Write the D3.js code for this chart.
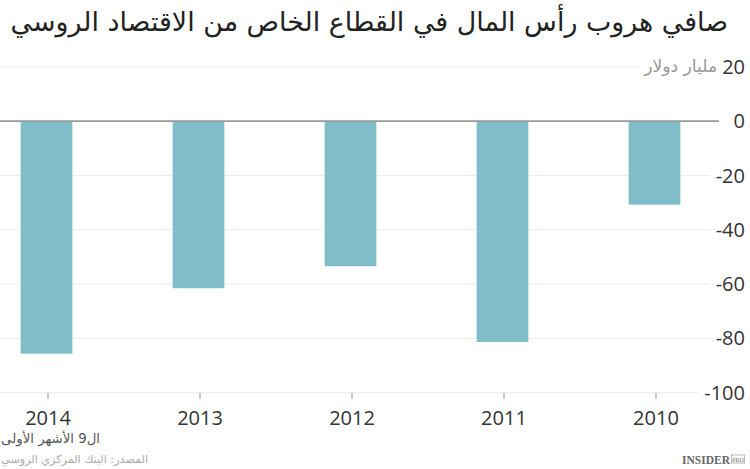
<!DOCTYPE html>
<html><head><meta charset="utf-8">
<script src="https://cdn.jsdelivr.net/npm/d3@7"></script>
<style>
html,body{margin:0;padding:0;background:#fff;}
svg{display:block;}
</style></head>
<body>
<svg id="c" width="750" height="469"></svg>
<script>
const title = "صافي هروب رأس المال في القطاع الخاص من الاقتصاد الروسي";
const unitLabel = "مليار دولار";
const footnote = "ال9 الأشهر الأولى";
const source = "المصدر: البنك المركزي الروسي";
const years = ["2014", "2013", "2012", "2011", "2010"];
const values = [-85.6, -61.5, -53.4, -81.3, -30.7];
const yTicks = [20, 0, -20, -40, -60, -80, -100];

const svg = d3.select("#c");
const labelRight = 745;
const gridEnd = 719;

const y = d3.scaleLinear().domain([-100, 20]).range([392.7, 67]);
const x = d3.scaleBand().domain(years).range([0, 701]).paddingInner(0.66).paddingOuter(0.136);

function rtlText(sel, xr, yy, txt, size, fill, fitW) {
  const t = sel.append("text").attr("x", xr).attr("y", yy)
    .attr("direction", "rtl").style("direction", "rtl").attr("text-anchor", "start")
    .attr("font-family", "'DejaVu Sans', sans-serif")
    .attr("font-size", size).attr("fill", fill).text(txt);
  if (fitW) {
    const len = t.node().getComputedTextLength();
    t.attr("font-size", Math.min(size * 1.3, size * fitW / len));
  }
  return t;
}

// title
rtlText(svg, 728, 31, title, 27, "#222", 718);

// y axis labels & gridlines
const g = svg.append("g");
yTicks.forEach(t => {
  const lbl = g.append("text").attr("x", labelRight).attr("y", y(t))
    .attr("dy", "0.35em").attr("text-anchor", "end")
    .attr("font-family", "'Open Sans', sans-serif").attr("font-size", 20)
    .attr("fill", "#333").text(t);
  let left = labelRight - lbl.node().getComputedTextLength();
  if (t === 20) {
    const u = rtlText(g, left - 5, y(t) + 5, unitLabel, 14, "#999", 73);
    left = left - 5 - u.node().getComputedTextLength();
  }
  const end = Math.min(gridEnd, left - 6);
  g.insert("line", ":first-child").attr("x1", 0).attr("x2", end)
    .attr("y1", y(t)).attr("y2", y(t))
    .attr("stroke", t === 0 ? "#999" : "#ececec").attr("stroke-width", t === 0 ? 1.5 : 1);
});

// bars
svg.append("g").selectAll("rect").data(years).join("rect")
  .attr("x", d => x(d)).attr("width", x.bandwidth())
  .attr("y", (d, i) => y(Math.max(0, values[i])))
  .attr("height", (d, i) => Math.abs(y(values[i]) - y(0)))
  .attr("fill", "#7fbdc8");

// zero line on top
svg.append("line").attr("x1", 0).attr("x2", gridEnd).attr("y1", y(0)).attr("y2", y(0))
  .attr("stroke", "#999").attr("stroke-width", 1.5);

// x axis ticks & labels
const xa = svg.append("g");
years.forEach(yr => {
  const cx = x(yr) + x.bandwidth() / 2 + 1.5;
  xa.append("line").attr("x1", cx).attr("x2", cx).attr("y1", y(-100)).attr("y2", y(-100) + 6)
    .attr("stroke", "#999").attr("stroke-width", 1);
  xa.append("text").attr("x", cx).attr("y", 425).attr("text-anchor", "middle")
    .attr("font-family", "'Open Sans', sans-serif").attr("font-size", 20)
    .attr("fill", "#333").text(yr);
});

// footnote & source
rtlText(svg, 100, 443, footnote, 14, "#555", 99);
rtlText(svg, 148, 463, source, 13, "#aaa", 147);

// logo
const logo = svg.append("g");
logo.append("text").attr("x", 730).attr("y", 464).attr("text-anchor", "end")
  .attr("font-family", "'Liberation Serif', serif").attr("font-weight", "bold")
  .attr("font-size", 11.5).attr("fill", "#666").text("INSIDER");
logo.append("rect").attr("x", 731.5).attr("y", 455).attr("width", 13).attr("height", 8)
  .attr("fill", "none").attr("stroke", "#888").attr("stroke-width", 0.6);
logo.append("text").attr("x", 738).attr("y", 461.5).attr("text-anchor", "middle")
  .attr("font-family", "'Liberation Serif', serif").attr("font-size", 6)
  .attr("fill", "#777").text("PRO");
</script>
</body></html>
